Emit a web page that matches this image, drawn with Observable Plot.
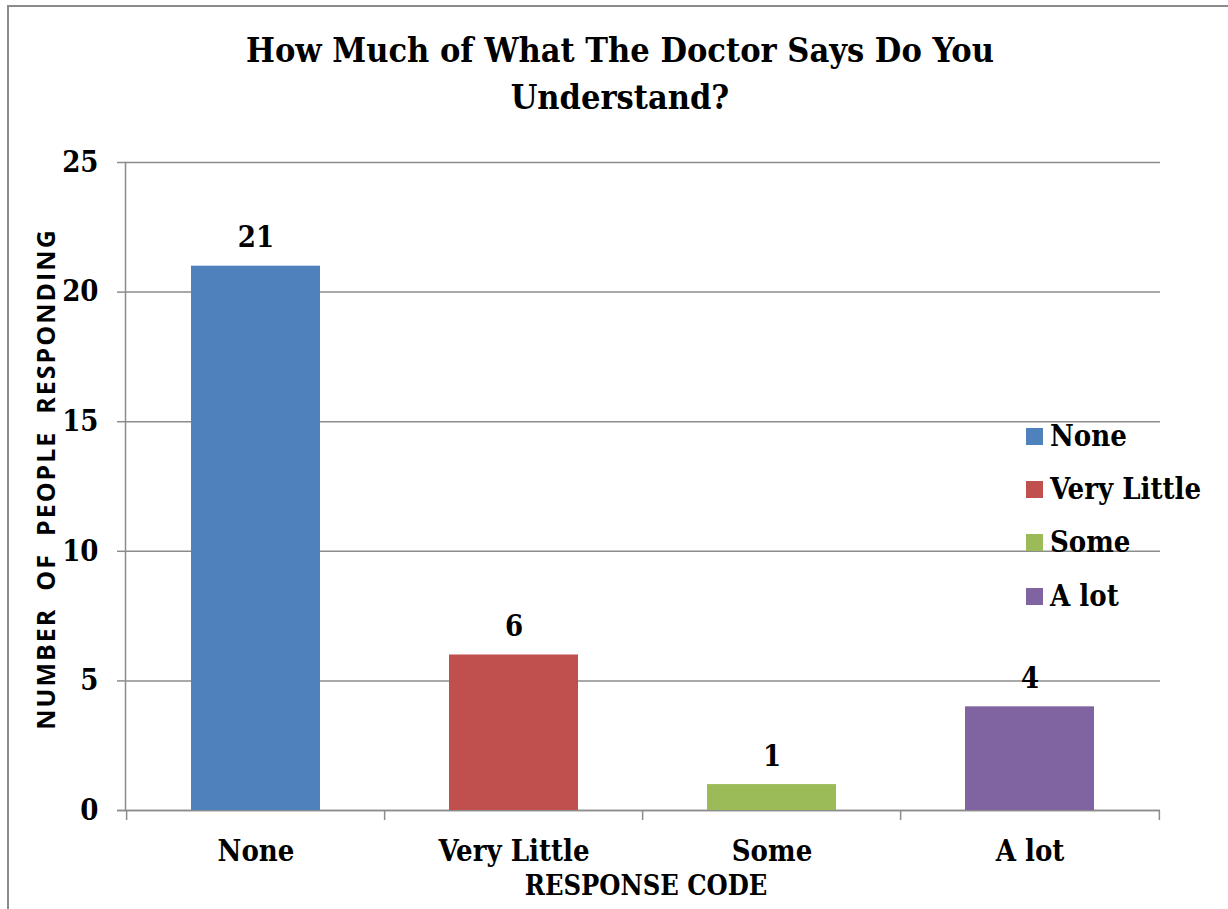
<!DOCTYPE html>
<html>
<head>
<meta charset="utf-8">
<script src="https://cdn.jsdelivr.net/npm/d3@7"></script>
<script src="https://cdn.jsdelivr.net/npm/@observablehq/plot@0.6"></script>
<style>
  html, body { margin: 0; padding: 0; background: #fff; }
  #page { position: relative; width: 1228px; height: 909px; overflow: hidden; background: #fff; }
  #edge { position: absolute; left: 7px; top: 5px; width: 1400px; height: 1100px;
          border-left: 2px solid #8c8c8c; border-top: 2px solid #8c8c8c; }
  .serif { font-family: "DejaVu Serif", serif; font-weight: bold; font-stretch: condensed; color: #000; }
  #title { position: absolute; left: 0; width: 1240px; top: 27px; text-align: center;
           font-size: 34px; line-height: 47px; }
  #chart { position: absolute; left: 0; top: 130px; }
  #chart svg { font-family: "DejaVu Serif", serif; font-weight: bold; font-stretch: condensed; }
  #ytitle { position: absolute; left: 45px; top: 479px; transform: translate(-50%, -50%) rotate(-90deg);
            font-family: "Open Sans", "DejaVu Sans", sans-serif; font-weight: bold; font-size: 25px;
            letter-spacing: 2px; white-space: pre; color: #000; }
  #xtitle { position: absolute; left: 646px; top: 885px; transform: translate(-50%, -50%);
            font-size: 27px; white-space: pre; }
  #legend { position: absolute; left: 1026px; top: 0; }
  .item { position: absolute; left: 0; display: flex; align-items: center; white-space: pre;
          font-size: 29px; transform: translateY(-50%); }
  .sw { width: 17px; height: 17px; margin-right: 7px; flex: none; }
</style>
</head>
<body>
<div id="page">
  <div id="edge"></div>
  <div id="title" class="serif">How Much of What The Doctor Says Do You<br>Understand?</div>
  <div id="chart"></div>
  <div id="ytitle">NUMBER  OF  PEOPLE  RESPONDING</div>
  <div id="xtitle" class="serif">RESPONSE CODE</div>
  <div id="legend" class="serif"></div>
</div>
<script>
// Survey answers: how much of what the doctor says is understood
const categories = ["None", "Very Little", "Some", "A lot"];
const counts = [21, 6, 1, 4];
const colors = ["#4F81BD", "#C0504D", "#9BBB59", "#8064A2"];
const yTicks = [0, 5, 10, 15, 20, 25];

const data = categories.map((c, i) => ({response: c, count: counts[i]}));

const width = 1228, marginLeft = 125, marginRight = 68;
const step = (width - marginLeft - marginRight) / categories.length;
const gray = "#8c8c8c";

const chart = Plot.plot({
  width,
  height: 779,
  marginTop: 32,
  marginBottom: 99,
  marginLeft,
  marginRight,
  x: {domain: categories, paddingInner: 0.5, paddingOuter: 0.25},
  y: {domain: [0, 25]},
  color: {domain: categories, range: colors},
  marks: [
    Plot.gridY(yTicks, {stroke: gray, strokeOpacity: 1, strokeWidth: 1.5}),
    Plot.ruleY([0], {stroke: gray, strokeWidth: 1.5, insetLeft: -8}),
    Plot.frame({anchor: "left", stroke: gray, strokeWidth: 1.5}),
    // category separators below the baseline
    Plot.ruleX(categories, {x: d => d, y1: 0, y2: 0, insetBottom: -10, dx: -step / 2, stroke: gray, strokeWidth: 1.5}),
    Plot.ruleX(categories.slice(-1), {x: d => d, y1: 0, y2: 0, insetBottom: -10, dx: step / 2, stroke: gray, strokeWidth: 1.5}),
    Plot.barY(data, {x: "response", y: "count", fill: "response"}),
    Plot.text(data, {x: "response", y: "count", text: d => String(d.count), dy: -28,
                     fontSize: 29, fontWeight: "bold", fill: "#000"}),
    Plot.axisY(yTicks, {tickSize: 8, tickPadding: 19, stroke: gray, strokeWidth: 1.5,
                        fontSize: 29, fontWeight: "bold", fill: "#000", label: null}),
    Plot.axisX({tickSize: 0, tickPadding: 30, fontSize: 29, fontWeight: "bold", fill: "#000", label: null})
  ]
});
document.getElementById("chart").appendChild(chart);

// legend overlaid at the right edge of the plot
const legend = document.getElementById("legend");
const rowY = [436, 489, 542, 596];
categories.forEach((c, i) => {
  const item = document.createElement("div");
  item.className = "item";
  item.style.top = rowY[i] + "px";
  const sw = document.createElement("div");
  sw.className = "sw";
  sw.style.background = colors[i];
  const label = document.createElement("span");
  label.textContent = c;
  item.appendChild(sw);
  item.appendChild(label);
  legend.appendChild(item);
});
</script>
</body>
</html>
